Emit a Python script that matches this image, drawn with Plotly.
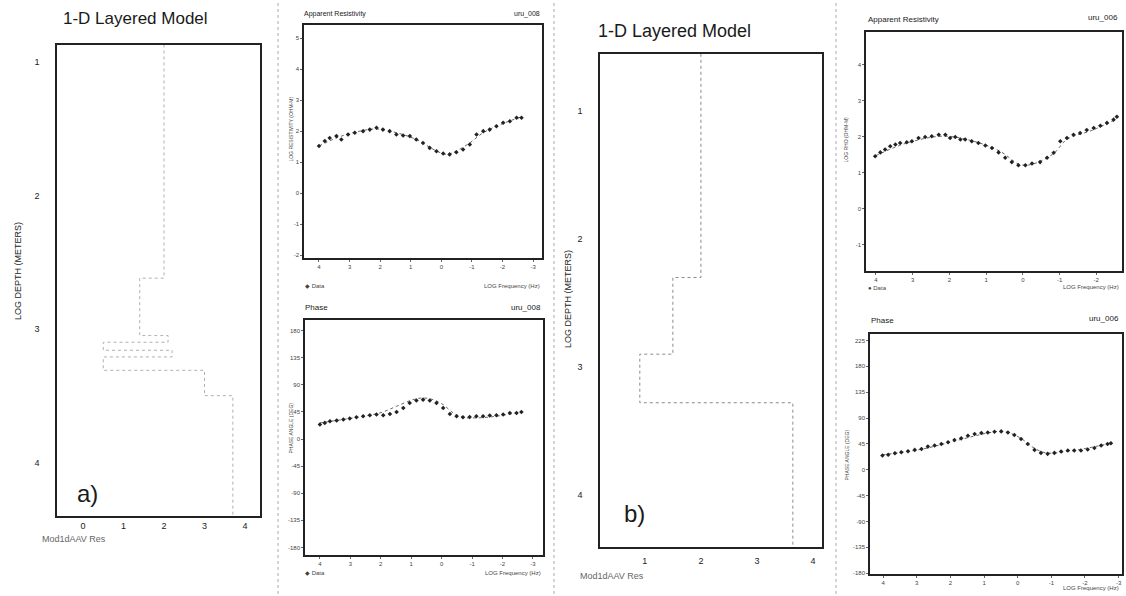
import plotly.graph_objects as go

W, H = 1126, 596

# ---- panel a: layered model (log resistivity vs log depth) ----
model_a_res = [2.0, 2.0, 1.4, 1.4, 2.1, 2.1, 0.5, 0.5, 2.2, 2.2, 0.5, 0.5, 3.0, 3.0, 3.7, 3.7]
model_a_depth = [0.87, 2.62, 2.62, 3.05, 3.05, 3.10, 3.10, 3.16, 3.16, 3.21, 3.21, 3.31, 3.31, 3.5, 3.5, 4.4]

# ---- panel a: apparent resistivity ----
a_rho_f = [4.00, 3.81, 3.65, 3.43, 3.27, 3.05, 2.83, 2.56, 2.34, 2.12, 1.91, 1.69, 1.47, 1.25, 1.03,
           0.82, 0.60, 0.38, 0.16, -0.06, -0.27, -0.49, -0.71, -0.93, -1.15, -1.37, -1.58, -1.80,
           -2.02, -2.24, -2.46, -2.62]
a_rho = [1.52, 1.68, 1.78, 1.84, 1.73, 1.89, 1.95, 2.00, 2.05, 2.11, 2.05, 2.00, 1.89, 1.86, 1.84,
         1.73, 1.62, 1.46, 1.35, 1.28, 1.25, 1.32, 1.41, 1.57, 1.89, 2.00, 2.05, 2.16,
         2.27, 2.32, 2.43, 2.43]
a_rho_mod_f = [4.00, 3.43, 2.89, 2.12, 1.47, 0.82, 0.16, -0.17, -0.49, -0.93, -1.37, -2.02, -2.62]
a_rho_mod = [1.52, 1.78, 1.95, 2.07, 1.95, 1.73, 1.36, 1.25, 1.36, 1.62, 1.95, 2.25, 2.46]

# ---- panel a: phase ----
a_ph_f = [4.00, 3.84, 3.67, 3.45, 3.23, 3.02, 2.80, 2.58, 2.36, 2.14, 1.92, 1.70, 1.48, 1.26, 1.05,
          0.83, 0.61, 0.39, 0.17, -0.05, -0.27, -0.49, -0.70, -0.92, -1.14, -1.36, -1.58, -1.80,
          -2.02, -2.24, -2.46, -2.62]
a_ph = [24.0, 26.8, 29.6, 30.7, 32.3, 34.0, 36.2, 37.8, 39.5, 40.6, 39.5, 41.7, 45.0, 51.6, 59.9,
        63.8, 65.4, 63.8, 59.9, 51.6, 41.7, 37.8, 36.2, 36.7, 37.8, 37.8, 38.9, 39.5,
        40.6, 43.3, 43.3, 45.0]
a_ph_mod_f = [4.00, 2.91, 2.03, 1.48, 0.94, 0.61, 0.28, -0.05, -0.38, -0.70, -1.14, -1.80, -2.62]
a_ph_mod = [26.8, 35.1, 43.3, 54.4, 65.4, 68.2, 65.4, 57.1, 43.3, 36.2, 35.1, 37.8, 45.0]

# ---- panel b: layered model ----
model_b_res = [2.0, 2.0, 1.5, 1.5, 0.91, 0.91, 3.64, 3.64]
model_b_depth = [0.55, 2.3, 2.3, 2.9, 2.9, 3.28, 3.28, 4.41]

# ---- panel b: apparent resistivity ----
b_rho_f = [4.02, 3.88, 3.75, 3.61, 3.47, 3.34, 3.16, 3.02, 2.84, 2.66, 2.48, 2.29, 2.11, 1.98,
           1.84, 1.70, 1.57, 1.39, 1.21, 1.02, 0.84, 0.66, 0.48, 0.30, 0.12, -0.07, -0.25,
           -0.47, -0.66, -0.84, -1.02, -1.20, -1.38, -1.56, -1.74, -1.93, -2.11, -2.29, -2.47, -2.56]
b_rho = [1.46, 1.57, 1.65, 1.74, 1.79, 1.83, 1.85, 1.88, 1.97, 2.00, 2.02, 2.06, 2.06, 1.97,
         2.00, 1.93, 1.93, 1.88, 1.83, 1.76, 1.69, 1.57, 1.42, 1.30, 1.21, 1.21, 1.26,
         1.30, 1.42, 1.56, 1.88, 1.97, 2.06, 2.11, 2.19, 2.25, 2.31, 2.39, 2.48, 2.56]
b_rho_mod_f = [4.00, 3.16, 2.16, 1.34, 0.62, 0.07, -0.29, -0.84, -1.20, -1.93, -2.56]
b_rho_mod = [1.48, 1.83, 2.02, 1.88, 1.60, 1.23, 1.25, 1.54, 1.93, 2.20, 2.50]

# ---- panel b: phase ----
b_ph_f = [4.02, 3.85, 3.65, 3.46, 3.26, 3.06, 2.86, 2.67, 2.47, 2.27, 2.07, 1.88, 1.68, 1.48,
          1.28, 1.08, 0.89, 0.69, 0.49, 0.29, 0.10, -0.10, -0.30, -0.50, -0.69, -0.89, -1.09,
          -1.29, -1.49, -1.68, -1.88, -2.08, -2.28, -2.48, -2.67, -2.77]
b_ph = [24.7, 25.9, 28.7, 30.5, 32.2, 34.5, 36.2, 40.2, 42.0, 44.8, 47.7, 51.7, 54.6, 59.2,
        62.1, 63.8, 64.9, 66.1, 66.7, 64.9, 60.3, 53.4, 44.8, 34.5, 29.3, 27.6, 29.3,
        31.6, 33.3, 33.3, 33.3, 35.1, 37.9, 42.0, 44.8, 46.0]
b_ph_mod_f = [4.02, 2.81, 1.83, 0.84, 0.44, -0.05, -0.45, -0.84, -1.63, -2.77]
b_ph_mod = [25.9, 36.2, 50.6, 64.4, 66.7, 56.3, 39.1, 29.3, 33.3, 46.0]

# ---- tick values ----
depth_ticks = [1, 2, 3, 4]
res_ticks_a = [0, 1, 2, 3, 4]
res_ticks_b = [1, 2, 3, 4]
freq_ticks_a = [4, 3, 2, 1, 0, -1, -2, -3]
freq_ticks_b_rho = [4, 3, 2, 1, 0, -1, -2]
freq_ticks_b_ph = [4, 3, 2, 1, 0, -1, -2, -3]
rho_ticks_a = [5, 4, 3, 2, 1, 0, -1, -2]
rho_ticks_b = [4, 3, 2, 1, 0, -1]
phase_ticks_a = [180, 135, 90, 45, 0, -45, -90, -135, -180]
phase_ticks_b = [225, 180, 135, 90, 45, 0, -45, -90, -135, -180]


def dx(x0, x1):
    return [x0 / W, x1 / W]


def dy(top, bottom):
    return [1 - bottom / H, 1 - top / H]


FONT = "Liberation Sans, Arial, sans-serif"
INK = "#1a1a1a"

fig = go.Figure()

# model step curves (faint, as printed)
fig.add_trace(go.Scatter(x=model_a_res, y=model_a_depth, mode="lines",
                         line=dict(color="#b0b0b0", width=1, dash="dot"), xaxis="x", yaxis="y"))
fig.add_trace(go.Scatter(x=model_b_res, y=model_b_depth, mode="lines",
                         line=dict(color="#8a8a8a", width=1, dash="dot"), xaxis="x4", yaxis="y4"))


# responses: model line + observed points
def add_resp(fm, vm, fd, vd, xa, ya):
    fig.add_trace(go.Scatter(x=fm, y=vm, mode="lines",
                             line=dict(color="#666", width=1, dash="dot", shape="spline"),
                             xaxis=xa, yaxis=ya))
    fig.add_trace(go.Scatter(x=fd, y=vd, mode="markers",
                             marker=dict(symbol="diamond", size=3.5, color="#222"),
                             xaxis=xa, yaxis=ya))


add_resp(a_rho_mod_f, a_rho_mod, a_rho_f, a_rho, "x2", "y2")
add_resp(a_ph_mod_f, a_ph_mod, a_ph_f, a_ph, "x3", "y3")
add_resp(b_rho_mod_f, b_rho_mod, b_rho_f, b_rho, "x5", "y5")
add_resp(b_ph_mod_f, b_ph_mod, b_ph_f, b_ph, "x6", "y6")

model_tick = dict(size=9, color=INK, family=FONT)
small_tick = dict(size=6, color="#444", family=FONT)


def ax(domain, rng, tickvals, font, anchor, lw=1.5, standoff=None, ticks="outside"):
    d = dict(domain=domain, range=rng, tickvals=tickvals, ticktext=[str(t) for t in tickvals],
             tickfont=font, showgrid=False, zeroline=False, showline=True, mirror=True,
             linecolor="#222", linewidth=lw, ticks=ticks, ticklen=2, tickcolor="#666",
             anchor=anchor)
    if standoff is not None:
        d["ticklabelstandoff"] = standoff
    return d


fig.update_layout(
    width=W, height=H, margin=dict(l=0, r=0, t=0, b=0),
    paper_bgcolor="white", plot_bgcolor="white", showlegend=False,
    xaxis=ax(dx(57, 260), [-0.642, 4.37], res_ticks_a, model_tick, "y", ticks=""),
    yaxis=ax(dy(45, 518), [4.403, 0.873], depth_ticks, model_tick, "x", ticks="", standoff=14),
    xaxis2=ax(dx(304, 542), [4.49, -3.29], freq_ticks_a, small_tick, "y2"),
    yaxis2=ax(dy(25, 259), [-2.10, 5.43], rho_ticks_a, small_tick, "x2"),
    xaxis3=ax(dx(305, 543), [4.49, -3.33], freq_ticks_a, small_tick, "y3"),
    yaxis3=ax(dy(321, 557), [-192.7, 197.7], phase_ticks_a, small_tick, "x3"),
    xaxis4=ax(dx(600, 822), [0.2, 4.16], res_ticks_b, model_tick, "y4", ticks="", standoff=4),
    yaxis4=ax(dy(54, 549), [4.41, 0.55], depth_ticks, model_tick, "x4", ticks="", standoff=14),
    xaxis5=ax(dx(866, 1122), [4.27, -2.7], freq_ticks_b_rho, small_tick, "y5"),
    yaxis5=ax(dy(32, 272), [-1.73, 4.92], rho_ticks_b, small_tick, "x5"),
    xaxis6=ax(dx(870, 1122), [4.39, -3.1], freq_ticks_b_ph, small_tick, "y6"),
    yaxis6=ax(dy(335, 576), [-181.7, 236.5], phase_ticks_b, small_tick, "x6"),
)


def note(text, x, y, size, xanchor="left", angle=0, color=INK, yanchor="middle"):
    fig.add_annotation(text=text, x=x / W, y=1 - y / H, xref="paper", yref="paper",
                       xanchor=xanchor, yanchor=yanchor, showarrow=False, textangle=angle,
                       font=dict(size=size, color=color, family=FONT))


# panel a labels
note("1-D Layered Model", 61, 19, 17)
note("LOG DEPTH (METERS)", 18, 272, 9, xanchor="center", angle=-90)
note("Mod1dAAV Res", 40, 541, 9, color="#666")
note("a)", 75, 495, 24)
note("Apparent Resistivity", 302, 14, 7)
note("uru_008", 542, 14, 7, xanchor="right")
note("LOG RESISTIVITY (OHM-M)", 291, 130, 5, xanchor="center", angle=-90, color="#444")
note("◆ Data", 303, 287, 6, color="#444")
note("LOG Frequency (Hz)", 542, 287, 6, xanchor="right", color="#444")
note("Phase", 303, 309, 8)
note("uru_008", 543, 309, 8, xanchor="right")
note("PHASE ANGLE (DEG)", 291, 430, 5, xanchor="center", angle=-90, color="#444")
note("◆ Data", 303, 575, 6, color="#444")
note("LOG Frequency (Hz)", 543, 575, 6, xanchor="right", color="#444")

# panel b labels
note("1-D Layered Model", 596, 31, 18)
note("LOG DEPTH (METERS)", 568, 300, 9, xanchor="center", angle=-90)
note("Mod1dAAV Res", 578, 578, 9, color="#666")
note("b)", 622, 515, 24)
note("Apparent Resistivity", 866, 20, 8)
note("uru_006", 1120, 18, 8, xanchor="right")
note("LOG RHO (OHM-M)", 846, 140, 5, xanchor="center", angle=-90, color="#444")
note("● Data", 866, 289, 6, color="#444")
note("LOG Frequency (Hz)", 1121, 288, 6, xanchor="right", color="#444")
note("Phase", 869, 322, 8)
note("uru_006", 1121, 320, 8, xanchor="right")
note("PHASE ANGLE (DEG)", 847, 457, 5, xanchor="center", angle=-90, color="#444")
note("LOG Frequency (Hz)", 1121, 590, 6, xanchor="right", color="#444")

# page gutter lines
for gx in (278, 554, 836):
    fig.add_shape(type="line", x0=gx / W, x1=gx / W, y0=0, y1=1, xref="paper", yref="paper",
                  line=dict(color="#aaa", width=1, dash="dot"))

fig.write_html("out.html")
